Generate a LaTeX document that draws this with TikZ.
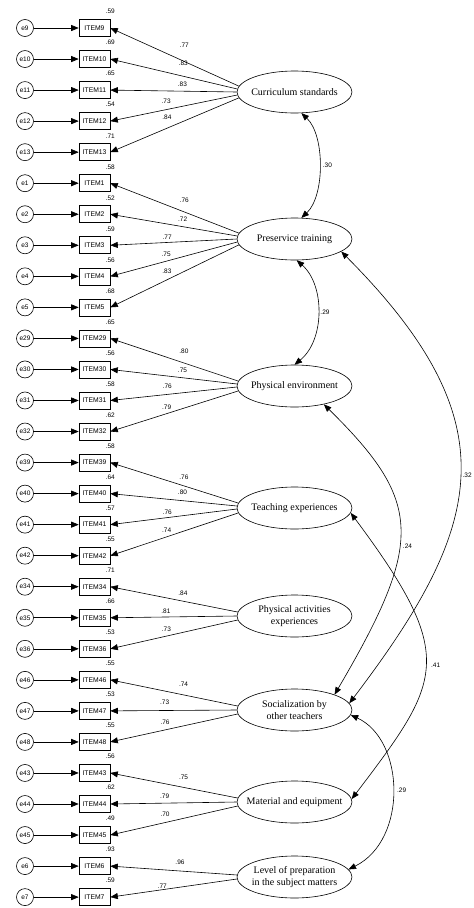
\documentclass[tikz,border=0pt]{standalone}
\usepackage{fontspec}
\setmainfont{Liberation Serif}
\newfontfamily\numfont{Liberation Sans}
\usetikzlibrary{arrows.meta,shapes.geometric}
\begin{document}
\begin{tikzpicture}[x=1pt,y=-1pt,line width=0.6pt,
  err/.style={circle,draw,minimum size=17pt,inner sep=0pt,font=\numfont\fontsize{6.5}{7}\selectfont},
  obs/.style={rectangle,draw,minimum width=31pt,minimum height=17pt,inner sep=0pt,font=\numfont\fontsize{6.8}{8}\selectfont},
  lat/.style={ellipse,draw,minimum width=115pt,minimum height=42pt,inner sep=0pt},
  lattext/.style={font=\fontsize{10}{11.5}\selectfont,align=center,inner sep=0pt},
  lab/.style={font=\numfont\fontsize{6.5}{7}\selectfont,inner sep=0.5pt},
  arr/.style={-{Triangle[length=7.5pt,width=6pt]}},
  dbl/.style={{Triangle[length=7.5pt,width=6pt]}-{Triangle[length=7.5pt,width=6pt]}}]
\fill[white] (0,0) rectangle (474,908);
\useasboundingbox (0,0) rectangle (474,908);

% observed items with errors and R^2
\foreach \n/\r [count=\k from 0] in {9/.59,10/.69,11/.65,12/.54,13/.71,
  1/.58,2/.52,3/.59,4/.56,5/.68,
  29/.65,30/.56,31/.58,32/.62,
  39/.58,40/.64,41/.57,42/.55,
  34/.71,35/.66,36/.53,
  46/.55,47/.53,48/.55,
  43/.56,44/.62,45/.49,
  6/.93,7/.59}{
  \node[obs] (i\n) at (94.5,28+31.04*\k) {ITEM\n};
  \node[err] (e\n) at (25,28+31.04*\k) {e\n};
  \draw[arr] (e\n) -- (i\n);
  \node[lab,anchor=south,yshift=4.5pt] (r\n) at (i\n.north east) {\r};
}

% latent variables
\node[lat,label={[lattext]center:Curriculum standards}] (cs) at (294.5,92) {};
\node[lat,label={[lattext]center:Preservice training}] (pt) at (294.5,239) {};
\node[lat,label={[lattext]center:Physical environment}] (pe) at (294.5,386) {};
\node[lat,label={[lattext]center:Teaching experiences}] (te) at (294.5,508) {};
\node[lat,label={[lattext]center:Physical activities\\experiences}] (pa) at (294.5,616) {};
\node[lat,label={[lattext]center:Socialization by\\other teachers}] (so) at (294.5,710) {};
\node[lat,label={[lattext]center:Material and equipment}] (me) at (294.5,802) {};
\node[lat,label={[lattext]center:Level of preparation\\in the subject matters}] (lp) at (294.5,877) {};

% loadings
\draw[arr] (cs.174) -- node[lab,pos=.425,above=13pt]{.77} (i9.east);
\draw[arr] (cs.177) -- node[lab,pos=.425,above=10pt]{.83} (i10.east);
\draw[arr] (cs.180) -- node[lab,pos=.43,above=4pt]{.83} (i11.east);
\draw[arr] (cs.183) -- node[lab,pos=.56,above=5pt]{.73} (i12.east);
\draw[arr] (cs.186) -- node[lab,pos=.56,above=8pt]{.84} (i13.east);

\draw[arr] (pt.174) -- node[lab,pos=.425,above=9pt]{.76} (i1.east);
\draw[arr] (pt.177) -- node[lab,pos=.43,above=4pt]{.72} (i2.east);
\draw[arr] (pt.180) -- node[lab,pos=.55,above=2pt]{.77} (i3.east);
\draw[arr] (pt.183) -- node[lab,pos=.56,above=4pt]{.75} (i4.east);
\draw[arr] (pt.186) -- node[lab,pos=.56,above=5pt]{.83} (i5.east);

\draw[arr] (pe.175) -- node[lab,pos=.425,above=9pt]{.80} (i29.east);
\draw[arr] (pe.178.5) -- node[lab,pos=.43,above=4.5pt]{.75} (i30.east);
\draw[arr] (pe.181.5) -- node[lab,pos=.55,above=5pt]{.76} (i31.east);
\draw[arr] (pe.185) -- node[lab,pos=.56,above=3.6pt]{.79} (i32.east);

\draw[arr] (te.175) -- node[lab,pos=.425,above=6pt]{.76} (i39.east);
\draw[arr] (te.178.5) -- node[lab,pos=.43,above=5.5pt]{.80} (i40.east);
\draw[arr] (te.181.5) -- node[lab,pos=.55,above=2pt]{.76} (i41.east);
\draw[arr] (te.185) -- node[lab,pos=.56,above=4pt]{.74} (i42.east);

\draw[arr] (pa.176) -- node[lab,pos=.43,above=5pt]{.84} (i34.east);
\draw[arr] (pa.180) -- node[lab,pos=.56,above=2.5pt]{.81} (i35.east);
\draw[arr] (pa.184) -- node[lab,pos=.56,above=4pt]{.73} (i36.east);

\draw[arr] (so.176) -- node[lab,pos=.425,above=7.7pt]{.74} (i46.east);
\draw[arr] (so.180) -- node[lab,pos=.57,above=5pt]{.73} (i47.east);
\draw[arr] (so.184) -- node[lab,pos=.57,above=5pt]{.76} (i48.east);

\draw[arr] (me.176) -- node[lab,pos=.425,above=6.7pt]{.75} (i43.east);
\draw[arr] (me.180) -- node[lab,pos=.57,above=4pt]{.79} (i44.east);
\draw[arr] (me.184) -- node[lab,pos=.57,above=4.7pt]{.70} (i45.east);

\draw[arr] (lp.178) -- node[lab,pos=.45,above=6pt]{.96} (i6.east);
\draw[arr] (lp.182) -- node[lab,pos=.59,above=0pt]{.77} (i7.east);

% covariances
\draw[dbl] (cs.-72) .. controls (325,135) and (325,196) .. node[lab,pos=.5,right=3pt]{.30} (pt.72);
\draw[dbl] (pt.-84) .. controls (325,285) and (325,340) .. node[lab,pos=.5,right=2pt]{.29} (pe.north);
\draw[dbl] (pt.-15) .. controls (512,423) and (484,526) .. node[lab,pos=.5,right=2pt]{.32} (so.7);
\draw[dbl] (pe.-32) .. controls (423,502) and (424,542) .. node[lab,pos=.57,right=3pt]{.24} (so.21);
\draw[dbl] (te.-5) .. controls (458,657) and (442,680) .. node[lab,pos=.5,right=5pt]{.41} (me.3);
\draw[dbl] (so.-5) .. controls (405,740) and (408,840) .. node[lab,pos=.5,right=4pt]{.29} (lp.8);
\end{tikzpicture}
\end{document}
